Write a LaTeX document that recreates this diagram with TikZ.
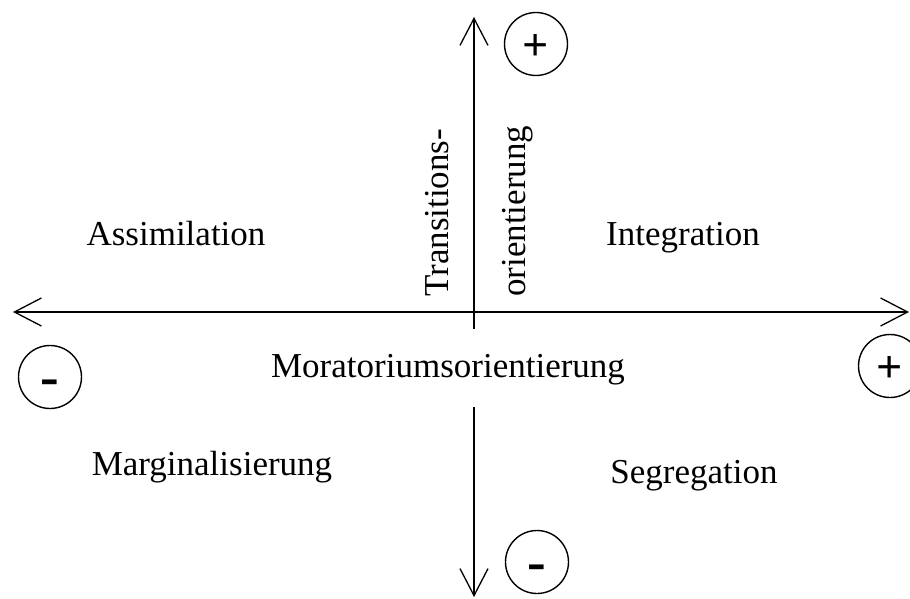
\documentclass[tikz,border=0pt]{standalone}
\usepackage{fontspec}
\setmainfont{Liberation Serif}
\usetikzlibrary{arrows.meta}
\begin{document}
\begin{tikzpicture}[x=1pt,y=-1pt,
  axis/.style={line width=1.3pt,{Straight Barb[length=27pt,width=28pt,line width=1.3pt]}-{Straight Barb[length=27pt,width=28pt,line width=1.3pt]}},
  lbl/.style={font=\fontsize{35}{40}\selectfont,anchor=base,inner sep=0pt},
  sign/.style={draw,circle,line width=1.4pt,minimum size=63pt,inner sep=0pt,font=\fontsize{46}{48}\selectfont\bfseries},
  msign/.style={sign,font=\fontsize{56}{60}\selectfont\bfseries}]
\useasboundingbox (0,0) rectangle (910,599);
\coordinate (top) at (474,17);
\coordinate (bot) at (474,597);
\coordinate (lft) at (13,312);
\coordinate (rgt) at (909,312);
\draw[axis] (bot) -- (top);
\draw[axis] (lft) -- (rgt);
\node[sign] (ptop) at (536,44) {\smash{\raisebox{-0.35em}{+}}};
\node[msign] (mbot) at (537,562) {\smash{\raisebox{-0.33em}{-}}};
\node[msign] (mlft) at (50,377) {\smash{\raisebox{-0.33em}{-}}};
\node[sign] (prgt) at (890,366) {\smash{\raisebox{-0.35em}{+}}};
\node[lbl] (ass) at (176,245) {Assimilation};
\node[lbl] (int) at (683,245) {Integration};
\node[lbl,fill=white,text height=48pt,text depth=30pt] (mor) at (448,377) {Moratoriumsorientierung};
\node[lbl] (mar) at (212,475) {Marginalisierung};
\node[lbl] (seg) at (694,483) {Segregation};
\node[lbl,anchor=base west,rotate=90] (tr1) at (448,297) {Transitions-};
\node[lbl,anchor=base west,rotate=90] (tr2) at (525,297) {orientierung};
\end{tikzpicture}
\end{document}
